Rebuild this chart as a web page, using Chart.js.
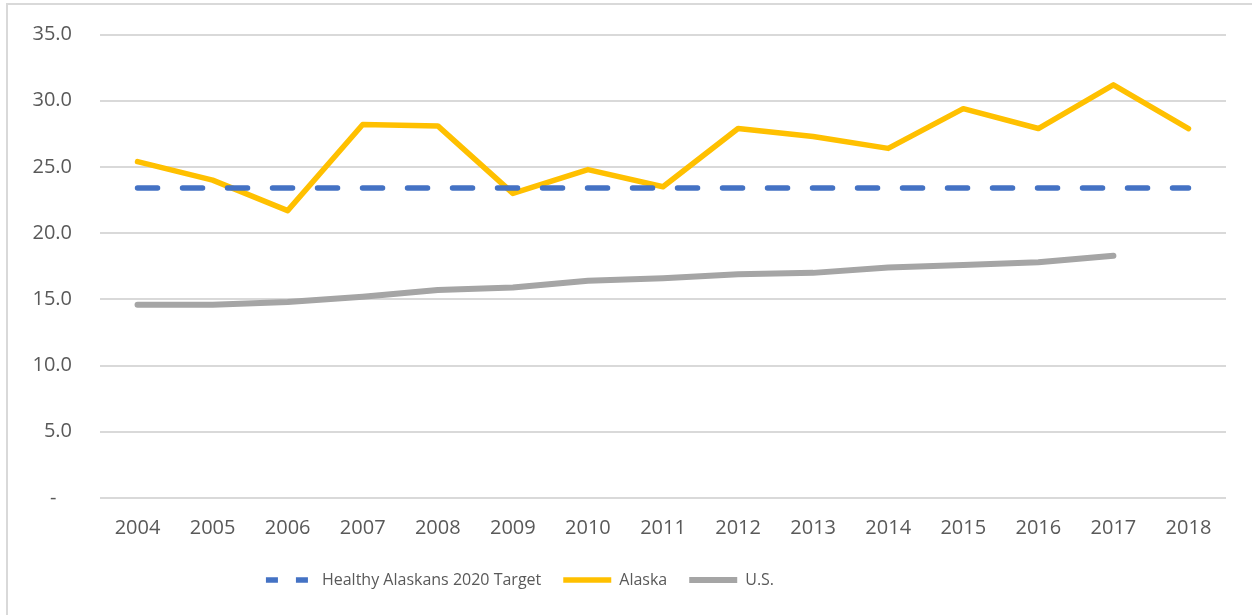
<!DOCTYPE html>
<html>
<head>
<meta charset="utf-8">
<script src="https://cdn.jsdelivr.net/npm/chart.js@4/dist/chart.umd.min.js"></script>
<style>
  html, body { margin: 0; padding: 0; background: #fff; }
  #frame { position: absolute; left: 6px; top: 3px; width: 1252px; height: 615px; border-left: 2px solid #d9d9d9; border-top: 2px solid #d9d9d9; }
  #wrap { position: absolute; left: 0; top: 0; width: 1252px; height: 615px; }
</style>
</head>
<body>
<div id="frame"></div>
<div id="wrap"><canvas id="chart" width="1252" height="615"></canvas></div>
<script>
// Data
const years = ["2004", "2005", "2006", "2007", "2008", "2009", "2010", "2011", "2012", "2013", "2014", "2015", "2016", "2017", "2018"];
const targetValues = [23.4, 23.4, 23.4, 23.4, 23.4, 23.4, 23.4, 23.4, 23.4, 23.4, 23.4, 23.4, 23.4, 23.4, 23.4];
const alaskaValues = [25.4, 24.0, 21.7, 28.2, 28.1, 23.0, 24.8, 23.5, 27.9, 27.3, 26.4, 29.4, 27.9, 31.2, 27.9];
const usValues = [14.6, 14.6, 14.8, 15.2, 15.7, 15.9, 16.4, 16.6, 16.9, 17.0, 17.4, 17.6, 17.8, 18.3, null];
const yTickLabels = ["-   ", "5.0", "10.0", "15.0", "20.0", "25.0", "30.0", "35.0"];

const tickFont = { family: "'Open Sans', sans-serif", size: 20 };
const legendFont = { family: "'Open Sans', sans-serif", size: 16 };

// the legend in the original sits left of the canvas centre
const shiftLegend = {
  id: "shiftLegend",
  afterLayout(chart) {
    chart.legend.left -= 93;
    chart.legend.right -= 93;
  }
};

const ctx = document.getElementById("chart");
new Chart(ctx, {
  type: "line",
  data: {
    labels: years,
    datasets: [
      {
        label: "Healthy Alaskans 2020 Target",
        data: targetValues,
        borderColor: "#4472c4",
        backgroundColor: "#4472c4",
        borderWidth: 5.5,
        borderDash: [20, 25],
        borderCapStyle: "round"
      },
      {
        label: "Alaska",
        data: alaskaValues,
        borderColor: "#ffc000",
        backgroundColor: "#ffc000",
        borderWidth: 5.5,
        borderCapStyle: "round",
        borderJoinStyle: "round"
      },
      {
        label: "U.S.",
        data: usValues,
        borderColor: "#a5a5a5",
        backgroundColor: "#a5a5a5",
        borderWidth: 6,
        borderCapStyle: "round",
        borderJoinStyle: "round"
      }
    ]
  },
  plugins: [shiftLegend],
  options: {
    responsive: false,
    animation: false,
    devicePixelRatio: 1,
    elements: { point: { radius: 0, hoverRadius: 0 }, line: { tension: 0 } },
    layout: { padding: { top: 10, right: 26, bottom: 17, left: 0 } },
    plugins: {
      tooltip: { enabled: false },
      legend: {
        position: "bottom",
        labels: {
          usePointStyle: true,
          pointStyle: "line",
          pointStyleWidth: 48,
          boxHeight: 5,
          padding: 22,
          color: "#595959",
          font: legendFont,
          generateLabels(chart) {
            const items = Chart.defaults.plugins.legend.labels.generateLabels(chart);
            items.forEach(it => { it.pointStyle = "line"; });
            items[0].lineDash = [12, 18];
            return items;
          }
        }
      }
    },
    scales: {
      x: {
        offset: true,
        grid: { display: false },
        border: { display: false },
        ticks: { color: "#595959", font: tickFont, padding: 10, maxRotation: 0 }
      },
      y: {
        min: 0,
        max: 35,
        afterFit(scale) { scale.width = 100; },
        grid: { color: "#d9d9d9", lineWidth: 2, drawTicks: false },
        border: { display: false },
        ticks: {
          stepSize: 5,
          color: "#595959",
          font: { family: tickFont.family, size: 20, lineHeight: 0.65 },
          padding: 28,
          callback: (v, i) => yTickLabels[i]
        }
      }
    }
  }
});
</script>
</body>
</html>
